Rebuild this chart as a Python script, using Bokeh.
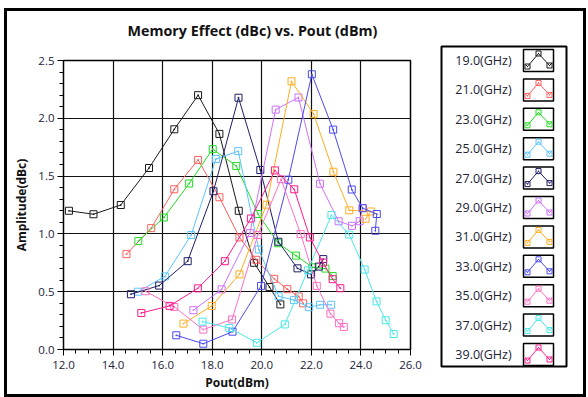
from bokeh.plotting import figure
from bokeh.models import Range1d, SingleIntervalTicker, PrintfTickFormatter
from bokeh.layouts import row, column
from bokeh.embed import file_html
from bokeh.resources import INLINE
from bokeh.core.properties import value

# ---------------- data ----------------
chart_title = "Memory Effect (dBc) vs. Pout (dBm)"
freq_labels = ["19.0(GHz)", "21.0(GHz)", "23.0(GHz)", "25.0(GHz)", "27.0(GHz)", "29.0(GHz)",
               "31.0(GHz)", "33.0(GHz)", "35.0(GHz)", "37.0(GHz)", "39.0(GHz)"]
series_colors = ["#1a1a1a", "#ff5e5e", "#22dd22", "#5cc4ff", "#1e1e66", "#cc70ff",
                 "#ffad22", "#4a4af0", "#ff6ec4", "#48e8e8", "#ff1a8c"]

pout_19 = [12.22, 13.21, 14.31, 15.45, 16.47, 17.43, 18.29, 19.07, 19.69, 20.31, 20.75]
amp_19 = [1.20, 1.17, 1.25, 1.57, 1.905, 2.20, 1.865, 1.20, 0.75, 0.54, 0.39]
pout_21 = [14.54, 15.54, 16.47, 17.43, 18.29, 19.10, 19.78, 20.50, 21.03, 21.49, 21.67]
amp_21 = [0.825, 1.05, 1.386, 1.64, 1.317, 0.969, 0.776, 0.611, 0.522, 0.459, 0.399]
pout_23 = [15.02, 16.05, 17.07, 18.02, 18.97, 19.85, 20.66, 21.38, 22.05, 22.57, 22.86]
amp_23 = [0.938, 1.142, 1.436, 1.733, 1.588, 1.172, 0.919, 0.812, 0.711, 0.70, 0.635]
pout_25 = [15.00, 16.09, 17.15, 18.15, 19.05, 19.88, 20.68, 21.30, 21.91, 22.35, 22.80]
amp_25 = [0.50, 0.632, 0.99, 1.648, 1.716, 0.865, 0.461, 0.427, 0.366, 0.387, 0.387]
pout_27 = [14.72, 15.86, 17.01, 18.05, 19.06, 19.94, 20.67, 21.44, 21.99, 22.30, 22.48]
amp_27 = [0.478, 0.553, 0.764, 1.369, 2.178, 1.553, 0.932, 0.702, 0.65, 0.717, 0.782]
pout_29 = [17.24, 18.38, 19.52, 20.56, 21.48, 22.35, 23.10, 23.64, 23.95, 24.07]
amp_29 = [0.34, 0.52, 1.007, 2.075, 2.18, 1.434, 1.109, 1.07, 1.11, 1.224]
pout_31 = [16.84, 17.98, 19.10, 20.19, 21.20, 22.09, 22.89, 23.53, 24.40, 24.19]
amp_31 = [0.224, 0.377, 0.65, 1.252, 2.32, 2.038, 1.538, 1.204, 1.194, 1.131]
pout_33 = [16.55, 17.64, 18.82, 19.97, 21.07, 22.02, 22.88, 23.63, 24.07, 24.64, 24.58]
amp_33 = [0.123, 0.05, 0.154, 0.55, 1.469, 2.381, 1.902, 1.384, 1.222, 1.172, 1.027]
pout_35 = [15.31, 16.47, 17.64, 18.80, 19.84, 20.78, 21.57, 22.22, 22.77, 23.12, 23.31]
amp_35 = [0.504, 0.368, 0.172, 0.26, 0.99, 1.473, 0.998, 0.55, 0.31, 0.227, 0.195]
pout_37 = [17.61, 18.69, 19.80, 20.93, 21.86, 22.81, 23.53, 24.15, 24.63, 25.00, 25.32]
amp_37 = [0.241, 0.186, 0.058, 0.217, 0.685, 1.163, 0.994, 0.692, 0.416, 0.253, 0.134]
pout_39 = [15.14, 16.28, 17.42, 18.51, 19.56, 20.53, 21.31, 21.94, 22.47, 22.86, 23.17]
amp_39 = [0.316, 0.377, 0.529, 0.764, 1.133, 1.549, 1.386, 0.969, 0.752, 0.608, 0.53]

series_x = [pout_19, pout_21, pout_23, pout_25, pout_27, pout_29, pout_31, pout_33, pout_35, pout_37, pout_39]
series_y = [amp_19, amp_21, amp_23, amp_25, amp_27, amp_29, amp_31, amp_33, amp_35, amp_37, amp_39]

FONT = "Open Sans"


def blank_panel(w, h):
    f = figure(frame_width=w, frame_height=h, output_backend="svg", toolbar_location=None,
               x_range=Range1d(0, w), y_range=Range1d(h, 0),
               x_axis_location=None, y_axis_location=None, min_border=0)
    f.frame_align = False
    f.grid.visible = False
    f.outline_line_color = None
    f.background_fill_color = "white"
    f.border_fill_color = "white"
    return f


# ---------------- title strip ----------------
TW, TH = 425, 40
tf = blank_panel(TW, TH)
tf.text(x=[120], y=[19], text=[chart_title], text_font=value(FONT), text_font_size="14.3px",
        text_font_style="bold", text_color="#111111", text_align="left", text_baseline="middle")

# ---------------- main chart ----------------
p = figure(width=425, height=343, output_backend="svg", toolbar_location=None,
           x_range=Range1d(12, 26), y_range=Range1d(0, 2.5),
           min_border_left=56, min_border_right=22, min_border_top=9, min_border_bottom=45)
p.frame_align = False

for xs, ys, c in zip(series_x, series_y, series_colors):
    p.line(xs, ys, line_color=c, line_width=1)
    p.scatter(xs, ys, marker="square_dot", size=7, line_color=c, fill_color=None, line_width=1)

for ax in (p.xaxis[0], p.yaxis[0]):
    ax.major_label_text_font = FONT
    ax.major_label_text_font_size = "11.5px"
    ax.major_label_text_color = "#22223a"
    ax.axis_label_text_font = FONT
    ax.axis_label_text_font_size = "12px"
    ax.axis_label_text_font_style = "bold"
    ax.axis_label_text_color = "#111111"
    ax.axis_line_color = "black"
    ax.major_tick_line_color = "black"
    ax.minor_tick_line_color = "black"
    ax.major_tick_in = 0
    ax.minor_tick_in = 0
    ax.major_tick_out = 6
    ax.minor_tick_out = 4
    ax.formatter = PrintfTickFormatter(format="%.1f")
p.xaxis[0].ticker = SingleIntervalTicker(interval=2, num_minor_ticks=4)
p.yaxis[0].ticker = SingleIntervalTicker(interval=0.5, num_minor_ticks=5)
p.xaxis[0].axis_label = "Pout(dBm)"
p.yaxis[0].axis_label = "Amplitude(dBc)"
p.xaxis[0].major_label_standoff = 5
p.yaxis[0].major_label_standoff = 3
p.xaxis[0].axis_label_standoff = 2
p.yaxis[0].axis_label_standoff = 5

p.xgrid.ticker = SingleIntervalTicker(interval=2)
p.ygrid.ticker = SingleIntervalTicker(interval=0.5)
p.grid.grid_line_color = "#111111"
p.grid.grid_line_width = 1.2
p.grid.grid_line_alpha = 1.0
p.outline_line_color = "black"
p.outline_line_width = 1.5
p.background_fill_color = "white"
p.border_fill_color = "white"

# ---------------- legend panel ----------------
LW, LH = 151, 383
lg = blank_panel(LW, LH)

box_l, box_r, box_t, box_b = 9, 134, 35, 355
lg.quad(left=[box_l], right=[box_r], top=[box_t], bottom=[box_b],
        fill_color=None, line_color="black", line_width=2)

row_c0, row_step = 49.0, 29.4
sw_l, sw_r, sw_h = 91, 121, 22
centers = [row_c0 + i * row_step for i in range(len(freq_labels))]
lg.text(x=[51] * len(freq_labels), y=centers, text=freq_labels,
        text_font=value(FONT), text_font_size="12.5px", text_color="#222233",
        text_align="center", text_baseline="middle")
lg.quad(left=[sw_l] * len(centers), right=[sw_r] * len(centers),
        top=[c - sw_h / 2 for c in centers], bottom=[c + sw_h / 2 for c in centers],
        fill_color="white", line_color="black", line_width=1.5)
for c, col in zip(centers, series_colors):
    top = c - sw_h / 2
    bot = c + sw_h / 2
    xs = [sw_l + 2, sw_l + 4, sw_l + 15, sw_l + 26, sw_r - 1]
    ys = [bot - 7, bot - 5, top + 4, bot - 6, bot - 9]
    lg.line(xs, ys, line_color=col, line_width=1)
    lg.scatter([sw_l + 4, sw_l + 15, sw_l + 26], [bot - 5, top + 4, bot - 6],
               marker="square_dot", size=5, line_color=col, fill_color=None, line_width=1)

layout = row(column(tf, p), lg, styles={"border": "3px solid black"}, margin=(8, 0, 0, 4))

open("out.html", "w").write(file_html(layout, INLINE))
